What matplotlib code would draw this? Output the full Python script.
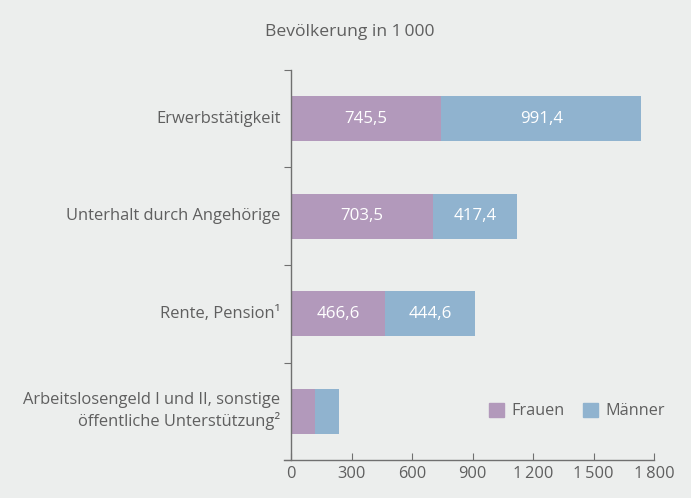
import matplotlib
matplotlib.use("Agg")
import matplotlib.pyplot as plt
from matplotlib.patches import Patch

plt.rcParams['font.family'] = ['Open Sans', 'DejaVu Sans']

categories = ["Erwerbstätigkeit", "Unterhalt durch Angehörige", "Rente, Pension¹",
              "Arbeitslosengeld I und II, sonstige\nöffentliche Unterstützung²"]
frauen = [745.5, 703.5, 466.6, 119.8]
maenner = [991.4, 417.4, 444.6, 115.5]
frauen_labels = ["745,5", "703,5", "466,6", ""]
maenner_labels = ["991,4", "417,4", "444,6", ""]
xticks = [0, 300, 600, 900, 1200, 1500, 1800]
xticklabels = ["0", "300", "600", "900", "1\u2009200", "1\u2009500", "1\u2009800"]

bg = "#eceeed"
c_f = "#b299bb"
c_m = "#90b3cf"
txt = "#5f5f5f"
axc = "#707070"

fig = plt.figure(figsize=(6.91, 4.98), dpi=100, facecolor=bg)
ax = fig.add_axes([284/691, 38/498, (654-284)/691, 390/498])
ax.set_facecolor(bg)

y = list(range(len(categories)))
h = 0.46
ax.barh(y, frauen, height=h, color=c_f, label="Frauen")
ax.barh(y, maenner, left=frauen, height=h, color=c_m, label="Männer")

for i in y:
    if frauen_labels[i]:
        ax.text(frauen[i] / 2, i, frauen_labels[i], ha="center", va="center",
                color="white", fontsize=12.2)
    if maenner_labels[i]:
        ax.text(frauen[i] + maenner[i] / 2, i, maenner_labels[i], ha="center",
                va="center", color="white", fontsize=12.2)

ax.set_xlim(-35, 1800)
ax.set_ylim(3.5, -0.5)
for s in ["top", "right"]:
    ax.spines[s].set_visible(False)
ax.spines["left"].set_position(("data", 0))
for s in ["left", "bottom"]:
    ax.spines[s].set_color(axc)
    ax.spines[s].set_linewidth(1.0)

ax.set_xticks(xticks)
ax.set_xticklabels(xticklabels)
ax.tick_params(axis="x", direction="in", length=5, color=axc, labelcolor=txt,
               labelsize=11.8, pad=4)
ax.set_yticks([-0.5, 0.5, 1.5, 2.5, 3.5])
ax.set_yticklabels([])
ax.tick_params(axis="y", direction="out", length=5, color=axc)

for i, c in enumerate(categories):
    ax.annotate(c, xy=(0, i), xycoords=("axes fraction", "data"),
                xytext=(-2.5, 0), textcoords="offset points",
                ha="right", va="center", color=txt, fontsize=11.9,
                linespacing=1.3)

leg = ax.legend(handles=[Patch(color=c_f, label="Frauen"), Patch(color=c_m, label="Männer")],
                loc="lower right", bbox_to_anchor=(1.069, 0.067), ncol=2, frameon=False,
                fontsize=11.7, handlelength=0.95, handleheight=0.95, handletextpad=0.45,
                columnspacing=1.1, labelcolor=txt)

fig.text(350/691, 1 - 32/498, "Bevölkerung in 1\u2009000", ha="center", va="center",
         color=txt, fontsize=12.6)

fig.savefig("out.png", dpi=100, facecolor=bg)
